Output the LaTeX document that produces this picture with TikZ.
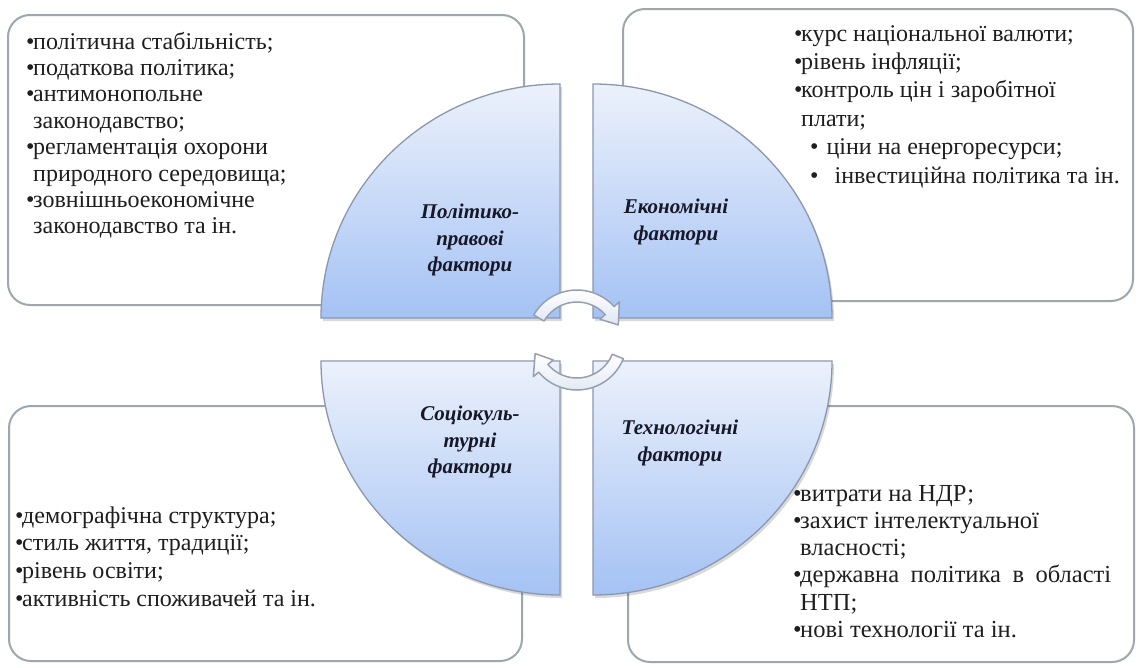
\documentclass[tikz,border=0pt]{standalone}
\usepackage{fontspec}
\setmainfont{Liberation Serif}
\usetikzlibrary{calc}

\definecolor{boxedge}{RGB}{158,166,174}
\definecolor{quadtop}{RGB}{236,241,251}
\definecolor{quadbot}{RGB}{164,194,244}
\definecolor{quadedge}{RGB}{138,152,174}
\definecolor{arrowfill}{RGB}{222,230,242}
\definecolor{arrowedge}{RGB}{150,160,176}
\definecolor{labelink}{RGB}{22,24,40}
\definecolor{textink}{RGB}{30,30,30}

% bullet and hanging indent used in the item lists
\newcommand\pbul{\makebox[7pt][l]{•}}
\newcommand\pind{\hspace*{7pt}}

\begin{document}
\begin{tikzpicture}[x=1pt,y=-1pt,
  factbox/.style={draw=boxedge, line width=2pt, rounded corners=22pt, fill=white},
  quadrant/.style={top color=quadtop, bottom color=quadbot, draw=quadedge, line width=1.3pt},
  quadshadow/.style={fill=black, opacity=0.15},
  cyclearrow/.style={top color=white, bottom color=arrowfill, draw=arrowedge, line width=1.5pt, line join=round},
  factlabel/.style={font=\fontsize{21}{26.5}\selectfont\bfseries\itshape, text=labelink, align=center, inner sep=0pt},
  itemlist/.style={text=textink, anchor=base west, inner sep=0pt}
]
\useasboundingbox (0,0) rectangle (1138,667);
\fill[white] (0,0) rectangle (1138,667);

% ---- outer boxes with the factor lists
\path[factbox] (8,15) rectangle (524,305);
\path[factbox] (623,9) rectangle (1133,301);
\path[factbox] (9,406) rectangle (522,661);
\path[factbox] (628,406) rectangle (1134,662);

% ---- four quadrants of the central circle
\coordinate (cpol) at (560,318);
\coordinate (ceco) at (593,318);
\coordinate (csoc) at (560,361);
\coordinate (ctec) at (593,361);

\begin{scope}[shift={(2,3)}]
  \path[quadshadow] (560,318) -- (560,84) arc[start angle=-90, end angle=-180, x radius=239, y radius=234] -- cycle;
  \path[quadshadow] (593,318) -- (593,84) arc[start angle=-90, end angle=0, x radius=239, y radius=234] -- cycle;
  \path[quadshadow] (560,361) -- (321,361) arc[start angle=180, end angle=90, x radius=239, y radius=234] -- cycle;
  \path[quadshadow] (593,361) -- (832,361) arc[start angle=0, end angle=90, x radius=239, y radius=234] -- cycle;
\end{scope}

\path[quadrant] (cpol) -- (560,84) arc[start angle=-90, end angle=-180, x radius=239, y radius=234] -- cycle;
\path[quadrant] (ceco) -- (593,84) arc[start angle=-90, end angle=0, x radius=239, y radius=234] -- cycle;
\path[quadrant] (csoc) -- (321,361) arc[start angle=180, end angle=90, x radius=239, y radius=234] -- cycle;
\path[quadrant] (ctec) -- (832,361) arc[start angle=0, end angle=90, x radius=239, y radius=234] -- cycle;

% ---- circular arrows in the middle
\coordinate (cyc) at (577,340);
\path[cyclearrow] ($(cyc)+(-150:50)$) arc[start angle=-150, end angle=-42, radius=50]
  -- ($(cyc)+(-42:57)$) -- ($(cyc)+(-20:44)$) -- ($(cyc)+(-42:31)$) -- ($(cyc)+(-42:38)$)
  arc[start angle=-42, end angle=-150, radius=38] -- cycle;
\path[cyclearrow] ($(cyc)+(22:50)$) arc[start angle=22, end angle=140, radius=50]
  -- ($(cyc)+(140:57)$) -- ($(cyc)+(162:44)$) -- ($(cyc)+(140:31)$) -- ($(cyc)+(140:38)$)
  arc[start angle=140, end angle=22, radius=38] -- cycle;

% ---- quadrant titles
\node[factlabel] (lpol) at (470,240) {Політико-\\правові\\фактори};
\node[factlabel] (leco) at (676,222) {Економічні\\фактори};
\node[factlabel] (lsoc) at (470,442) {Соціокуль-\\турні\\фактори};
\node[factlabel] (ltec) at (680,443) {Технологічні\\фактори};

% ---- factor lists
\node[itemlist, font=\fontsize{24}{26.4}\selectfont] (tpol) at (26,49) {\begin{tabular}[t]{@{}l@{}}
\pbul політична стабільність;\\
\pbul податкова політика;\\
\pbul антимонопольне\\
\pind законодавство;\\
\pbul регламентація охорони\\
\pind природного середовища;\\
\pbul зовнішньоекономічне\\
\pind законодавство та ін.
\end{tabular}};

\node[itemlist, font=\fontsize{24}{28.4}\selectfont] (teco) at (794,41) {\begin{tabular}[t]{@{}l@{}}
\pbul курс національної валюти;\\
\pbul рівень інфляції;\\
\pbul контроль цін і заробітної\\
\pind плати;\\
\hspace*{16pt}•\hspace*{8pt}ціни на енергоресурси;\\
\hspace*{16pt}•\hspace*{16pt}інвестиційна політика та ін.
\end{tabular}};

\node[itemlist, font=\fontsize{24}{27.7}\selectfont] (tsoc) at (15,523) {\begin{tabular}[t]{@{}l@{}}
\pbul демографічна структура;\\
\pbul стиль життя, традиції;\\
\pbul рівень освіти;\\
\pbul активність споживачей та ін.
\end{tabular}};

\node[itemlist, font=\fontsize{24.5}{27.3}\selectfont] (ttec) at (793,501) {\begin{tabular}[t]{@{}l@{}}
\pbul витрати на НДР;\\
\pbul захист інтелектуальної\\
\pind власності;\\
\pbul \makebox[311pt][s]{державна політика в області}\\
\pind НТП;\\
\pbul нові технології та ін.
\end{tabular}};
\end{tikzpicture}
\end{document}
